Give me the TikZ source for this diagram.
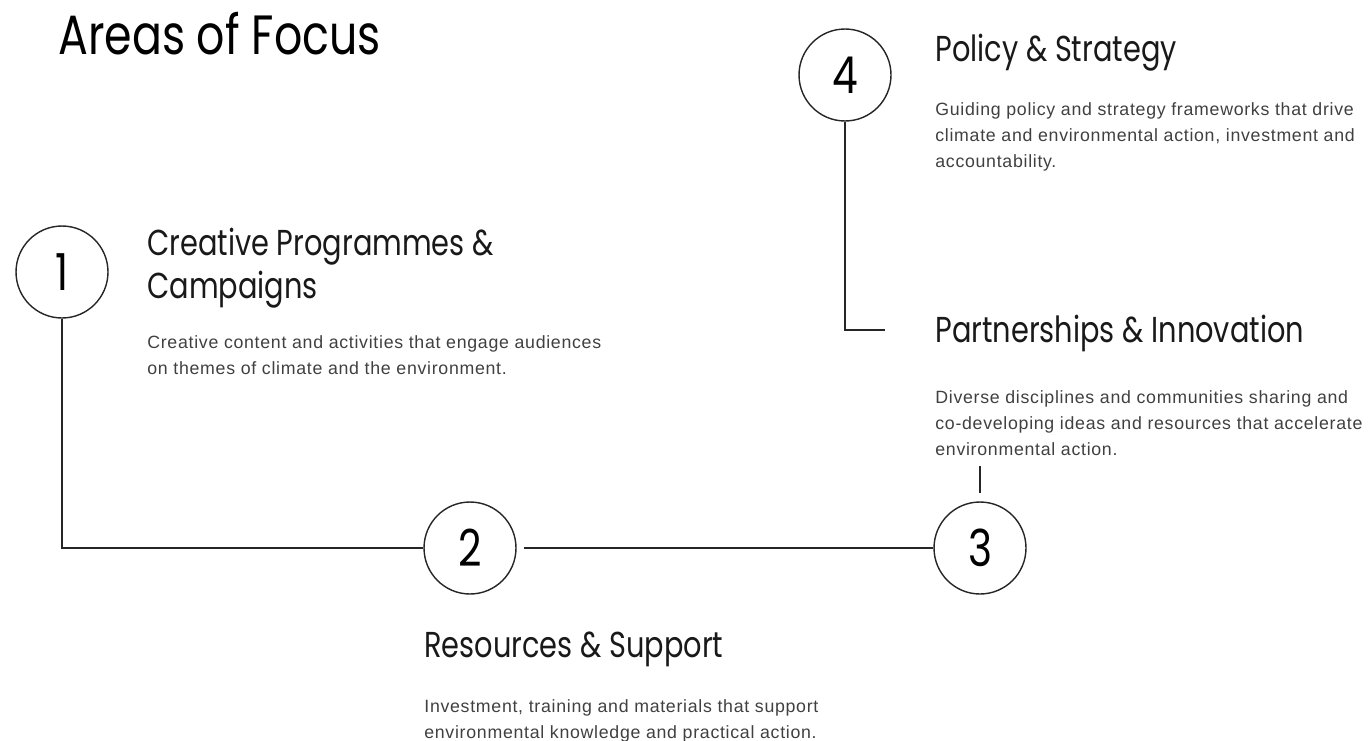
\documentclass[tikz,border=0pt]{standalone}
\usepackage{fontspec}
\setmainfont{Liberation Sans}
\newfontfamily\headfont[FakeStretch=0.8]{Poppins}
\newfontfamily\bodyfont[LetterSpace=4]{Liberation Sans}
\usetikzlibrary{positioning}

\begin{document}
\begin{tikzpicture}[x=0.02cm,y=-0.02cm,
  num/.style={circle,draw=black!85,line width=0.8pt,minimum size=1.84cm,inner sep=0pt,
    font=\headfont\fontsize{29}{29}\selectfont},
  heading/.style={anchor=base west,inner sep=0pt,align=left,text=black!90,
    font=\headfont\fontsize{20.5}{24}\selectfont},
  blurb/.style={anchor=north west,inner sep=0pt,align=left,text=black!75,
    font=\bodyfont\fontsize{10.1}{14.8}\selectfont},
  link/.style={draw=black!85,line width=0.8pt}]

% Keep the page size
\useasboundingbox (0,0) rectangle (1368,740);

% Title
\node[anchor=base west,inner sep=0pt,font=\headfont\fontsize{31.5}{31.5}\selectfont] (title) at (58,55) {Areas of Focus};

% The four numbered circles
\node[num] (c1) at (62,272) {1};
\node[num] (c2) at (470,548) {2};
\node[num] (c3) at (980,548) {3};
\node[num] (c4) at (845,75) {4};

% Headings (base of a two line heading is its last line)
\node[heading] (t1) at (147,298) {Creative Programmes \&\\Campaigns};
\node[heading] (t2) at (424,657) {Resources \& Support};
\node[heading] (t3) at (935,342) {Partnerships \& Innovation};
\node[heading] (t4) at (935,62) {Policy \& Strategy};

% Descriptions
\node[blurb] (d1) at (147,335) {Creative content and activities that engage audiences\\on themes of climate and the environment.};
\node[blurb] (d2) at (424,699) {Investment, training and materials that support\\environmental knowledge and practical action.};
\node[blurb] (d3) at (935,390) {Diverse disciplines and communities sharing and\\co-developing ideas and resources that accelerate\\environmental action.};
\node[blurb] (d4) at (935,102) {Guiding policy and strategy frameworks that drive\\climate and environmental action, investment and\\accountability.};

% Connectors
\coordinate (e4) at (885,330);
\draw[link] (c1) |- (c2);
\draw[link,shorten <=4pt] (c2) -- (c3);
\draw[link] (c4) |- (e4);
\draw[link,shorten <=6pt,shorten >=5pt] (c3.north |- d3.south) -- (c3.north);

\end{tikzpicture}
\end{document}
